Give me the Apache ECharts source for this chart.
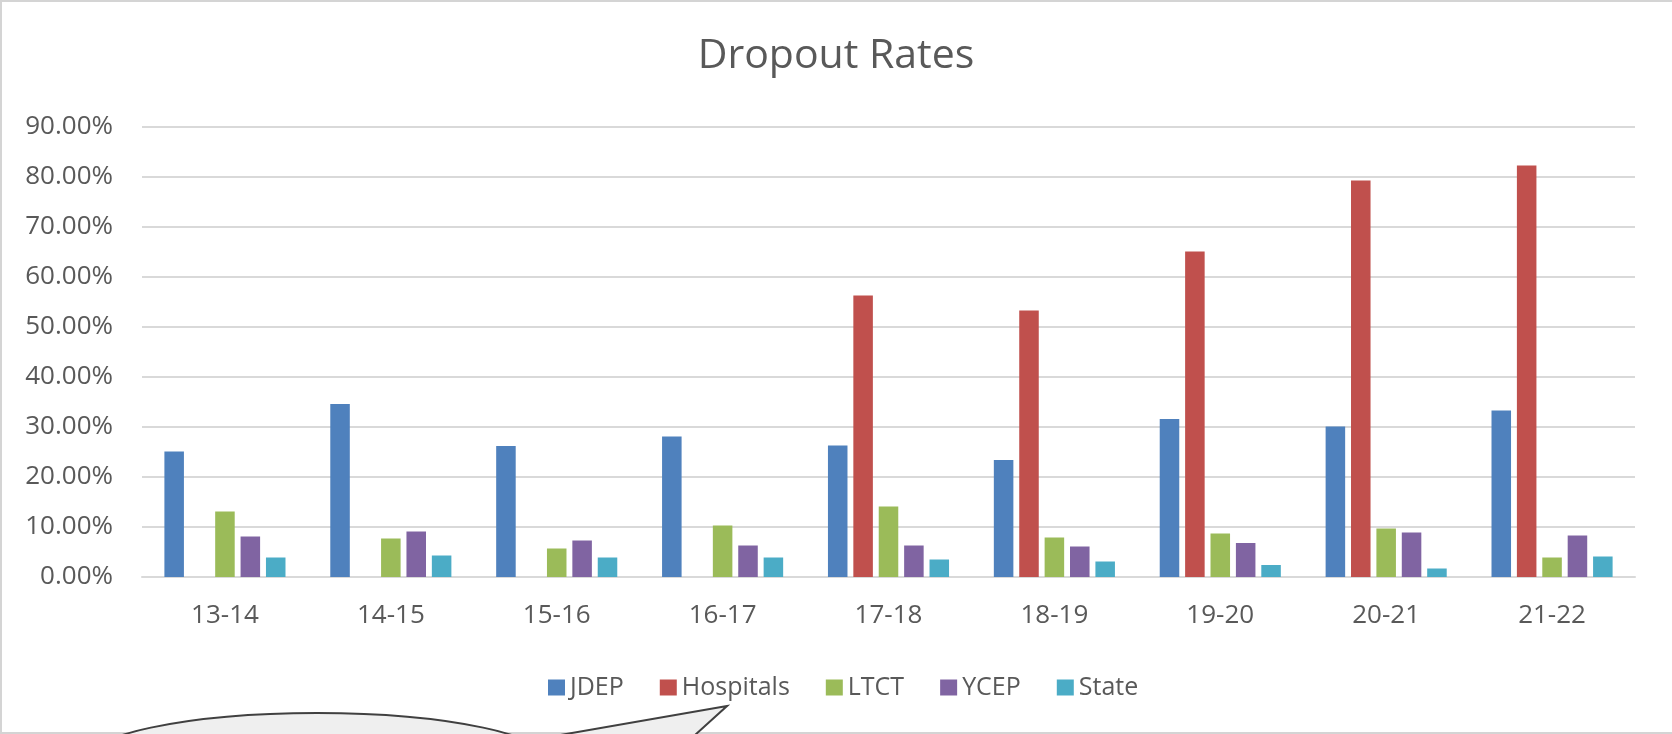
<!DOCTYPE html>
<html>
<head>
<meta charset="utf-8">
<title>Dropout Rates</title>
<script src="https://cdn.jsdelivr.net/npm/echarts@6/dist/echarts.min.js"></script>
<style>
  html, body { margin: 0; padding: 0; background: #fff; }
  #chart { width: 1672px; height: 734px; }
</style>
</head>
<body>
<div id="chart"></div>
<script>
// school years
const years = ["13-14", "14-15", "15-16", "16-17", "17-18", "18-19", "19-20", "20-21", "21-22"];
// dropout rates in percent
const jdep = [25.1, 34.6, 26.2, 28.1, 26.3, 23.4, 31.6, 30.1, 33.3];
const hospitals = [null, null, null, null, 56.3, 53.3, 65.1, 79.3, 82.3];
const ltct = [13.1, 7.7, 5.7, 10.3, 14.1, 7.9, 8.7, 9.7, 3.9];
const ycep = [8.1, 9.1, 7.3, 6.3, 6.3, 6.1, 6.8, 8.9, 8.3];
const state = [3.9, 4.3, 3.9, 3.9, 3.5, 3.1, 2.4, 1.7, 4.1];

const font = "'Open Sans', 'DejaVu Sans', sans-serif";
const textColor = "#595959";
const gridColor = "#d9d9d9";

function bar(name, data, color) {
  return {
    name: name,
    type: "bar",
    data: data,
    barGap: "30%",
    barCategoryGap: "27%",
    itemStyle: { color: color },
    emphasis: { disabled: true }
  };
}

const chart = echarts.init(document.getElementById("chart"));
chart.setOption({
  animation: false,
  backgroundColor: "#fff",
  title: {
    text: "Dropout Rates",
    left: "center",
    top: 36,
    padding: 0,
    textStyle: { color: textColor, fontSize: 41, fontWeight: "normal", fontFamily: font }
  },
  legend: {
    left: 548,
    top: 675,
    padding: 0,
    itemGap: 36,
    itemWidth: 17,
    itemHeight: 16,
    icon: "rect",
    textStyle: { color: textColor, fontSize: 25, fontFamily: font },
    data: ["JDEP", "Hospitals", "LTCT", "YCEP", "State"]
  },
  grid: {
    left: 142,
    right: 37,
    top: 127,
    bottom: 157,
    containLabel: false,
    outerBoundsMode: "none"
  },
  xAxis: {
    type: "category",
    data: years,
    axisLine: { lineStyle: { color: gridColor, width: 2 } },
    axisTick: { show: false },
    axisLabel: { color: textColor, fontSize: 26, fontFamily: font, margin: 26 }
  },
  yAxis: {
    type: "value",
    min: 0,
    max: 90,
    interval: 10,
    axisLine: { show: false },
    axisTick: { show: false },
    splitLine: { lineStyle: { color: gridColor, width: 2 } },
    axisLabel: {
      color: textColor,
      fontSize: 26,
      fontFamily: font,
      margin: 29,
      formatter: v => v.toFixed(2) + "%"
    }
  },
  series: [
    bar("JDEP", jdep, "#4F81BD"),
    bar("Hospitals", hospitals, "#C0504D"),
    bar("LTCT", ltct, "#9BBB59"),
    bar("YCEP", ycep, "#8064A2"),
    bar("State", state, "#4BACC6")
  ],
  graphic: [
    // frame of the chart area
    { type: "line", shape: { x1: 0, y1: 1, x2: 1672, y2: 1 }, style: { stroke: "#d4d4d4", lineWidth: 2 } },
    { type: "line", shape: { x1: 1, y1: 0, x2: 1, y2: 734 }, style: { stroke: "#d4d4d4", lineWidth: 2 } },
    { type: "line", shape: { x1: 0, y1: 733, x2: 1672, y2: 733 }, style: { stroke: "#d4d4d4", lineWidth: 2 } },
    // speech bubble peeking in at the bottom
    {
      type: "ellipse",
      shape: { cx: 317, cy: 763, rx: 235, ry: 50 },
      style: { fill: "#efefef", stroke: "#404040", lineWidth: 2 },
      z: 10
    },
    {
      type: "polygon",
      shape: { points: [[727, 706], [503, 745], [684, 745]] },
      style: { fill: "#efefef", stroke: "#404040", lineWidth: 2 },
      z: 10
    }
  ]
});
</script>
</body>
</html>
